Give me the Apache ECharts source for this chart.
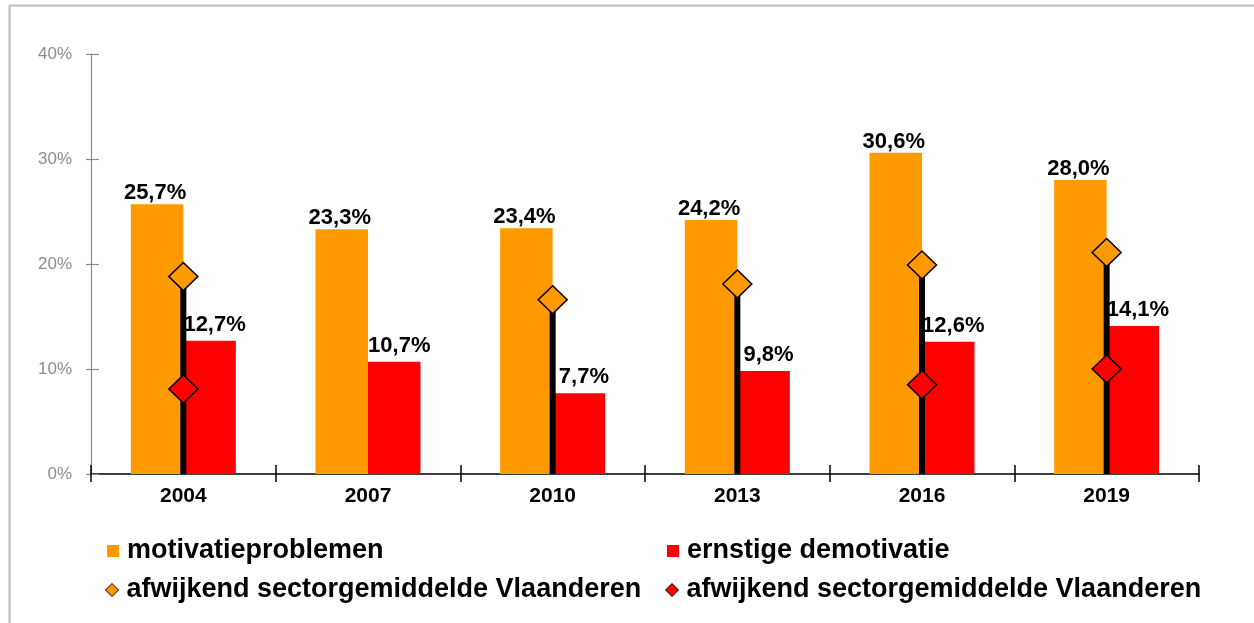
<!DOCTYPE html>
<html>
<head>
<meta charset="utf-8">
<script src="https://cdn.jsdelivr.net/npm/echarts@6/dist/echarts.min.js"></script>
<style>
html,body{margin:0;padding:0;background:#fff;}
#chart{width:1254px;height:623px;}
</style>
</head>
<body>
<div id="chart"></div>
<script>
const categories = ['2004', '2007', '2010', '2013', '2016', '2019'];
const motivatieproblemen = [25.7, 23.3, 23.4, 24.2, 30.6, 28.0];
const ernstigeDemotivatie = [12.7, 10.7, 7.7, 9.8, 12.6, 14.1];
const sectorMotivatie = [18.8, null, 16.6, 18.1, 19.9, 21.1];
const sectorErnstig = [8.1, null, null, null, 8.5, 10.0];
const yTicks = [0, 10, 20, 30, 40];

const NAME_MOT = 'motivatieproblemen';
const NAME_ERN = 'ernstige demotivatie';
const NAME_SEC1 = 'afwijkend sectorgemiddelde Vlaanderen';
const NAME_SEC2 = 'afwijkend sectorgemiddelde Vlaanderen (ernstig)';
const legendLabel = { [NAME_SEC2]: 'afwijkend sectorgemiddelde Vlaanderen' };

const FONT = '"Liberation Sans", Arial, sans-serif';
const ORANGE = '#FF9900';
const RED = '#FF0000';

const chart = echarts.init(document.getElementById('chart'), null, { renderer: 'canvas' });

function fmtPct(v) { return v.toFixed(1).replace('.', ',') + '%'; }

function mkLegend(name, left, top, icon, color) {
  const isRect = icon === 'rect';
  return {
    show: true,
    left: left, top: top,
    orient: 'vertical',
    padding: 0,
    selectedMode: false,
    itemWidth: isRect ? 12 : 13,
    itemHeight: isRect ? 12 : 13,
    data: [{ name: name, icon: icon, itemStyle: isRect ? { color: color, borderWidth: 0 } : { color: color, borderColor: '#000', borderWidth: 1 } }],
    formatter: function (n) { return legendLabel[n] || n; },
    textStyle: { fontFamily: FONT, fontSize: 27, fontWeight: 'bold', color: '#000', lineHeight: 30, padding: [0, 0, 0, 3] }
  };
}

const option = {
  animation: false,
  backgroundColor: '#fff',
  textStyle: { fontFamily: FONT },
  grid: { left: 91, right: 55, top: 54, bottom: 149, containLabel: false },
  graphic: [{
    type: 'rect',
    shape: { x: 9.5, y: 5.5, width: 1400, height: 800 },
    style: { fill: 'none', stroke: '#bdbdbd', lineWidth: 2 },
    silent: true
  }],
  legend: [
    mkLegend(NAME_MOT, 107, 536, 'rect', ORANGE),
    mkLegend(NAME_ERN, 667, 536, 'rect', RED),
    mkLegend(NAME_SEC1, 105, 575, 'diamond', ORANGE),
    mkLegend(NAME_SEC2, 665, 575, 'diamond', RED)
  ],
  xAxis: [{
    type: 'category',
    data: categories,
    position: 'bottom',
    axisLine: { show: true, lineStyle: { color: '#000', width: 1.5 } },
    axisTick: { show: true, inside: false, length: 8, lineStyle: { color: '#000', width: 1.5 } },
    axisLabel: { margin: 12, fontFamily: FONT, fontSize: 21, fontWeight: 'bold', color: '#000' },
    splitLine: { show: false }
  }, {
    type: 'category',
    data: categories,
    position: 'bottom',
    axisLine: { show: false },
    axisTick: { show: true, inside: true, length: 9, lineStyle: { color: '#000', width: 1.5 } },
    axisLabel: { show: false },
    splitLine: { show: false }
  }],
  yAxis: [{
    type: 'value',
    min: yTicks[0], max: yTicks[yTicks.length - 1], interval: 10,
    position: 'left',
    axisLine: { show: true, lineStyle: { color: '#8a8a8a', width: 1.2 } },
    axisTick: { show: true, inside: false, length: 5, lineStyle: { color: '#8a8a8a', width: 1.2 } },
    axisLabel: { margin: 19, formatter: '{value}%', fontFamily: FONT, fontSize: 17, color: '#8c8c8c' },
    splitLine: { show: false }
  }, {
    type: 'value',
    min: yTicks[0], max: yTicks[yTicks.length - 1], interval: 10,
    position: 'left',
    offset: 0,
    axisLine: { show: false },
    axisTick: { show: true, inside: true, length: 8, lineStyle: { color: '#8a8a8a', width: 1.2 } },
    axisLabel: { show: false },
    splitLine: { show: false }
  }],
  series: [{
    name: NAME_MOT,
    type: 'bar',
    xAxisIndex: 0, yAxisIndex: 0,
    data: motivatieproblemen,
    barWidth: 52.5,
    barGap: '0%',
    itemStyle: { color: ORANGE },
    z: 2,
    label: {
      show: true, position: 'top', distance: 0, offset: [-2, 0],
      formatter: p => fmtPct(p.value),
      fontFamily: FONT, fontSize: 22, fontWeight: 'bold', color: '#000'
    }
  }, {
    name: NAME_ERN,
    type: 'bar',
    xAxisIndex: 0, yAxisIndex: 0,
    data: ernstigeDemotivatie,
    barWidth: 52.5,
    barGap: '0%',
    itemStyle: { color: RED },
    z: 2,
    label: {
      show: true, position: 'top', distance: 5, offset: [5, 0],
      formatter: p => fmtPct(p.value),
      fontFamily: FONT, fontSize: 22, fontWeight: 'bold', color: '#000'
    }
  }, {
    name: 'lijn',
    type: 'bar',
    xAxisIndex: 1, yAxisIndex: 0,
    data: sectorMotivatie,
    barWidth: 6,
    itemStyle: { color: '#000' },
    z: 3,
    silent: true
  }, {
    name: NAME_SEC1,
    type: 'scatter',
    xAxisIndex: 0, yAxisIndex: 0,
    data: sectorMotivatie,
    symbol: 'diamond',
    symbolSize: [29, 28],
    itemStyle: { color: ORANGE, borderColor: '#000', borderWidth: 1.5, opacity: 1 },
    z: 5
  }, {
    name: NAME_SEC2,
    type: 'scatter',
    xAxisIndex: 0, yAxisIndex: 0,
    data: sectorErnstig,
    symbol: 'diamond',
    symbolSize: [29, 28],
    itemStyle: { color: RED, borderColor: '#000', borderWidth: 1.5, opacity: 1 },
    z: 5
  }]
};

chart.setOption(option);
</script>
</body>
</html>
